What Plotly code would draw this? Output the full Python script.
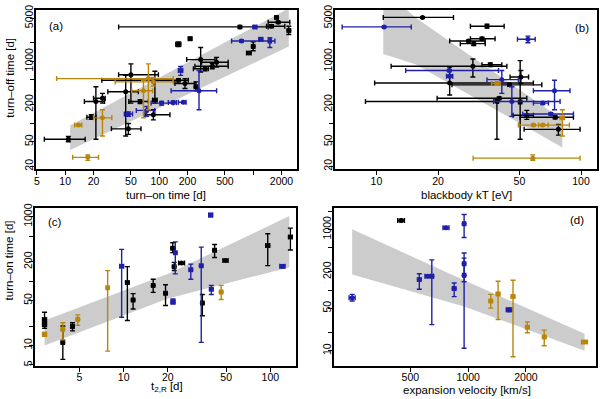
import plotly.graph_objects as go

BLACK = "black"
BLUE = "#1f1fa8"
GOLD = "#b8860b"
BAND = "#cccccc"
FONT = "Liberation Sans"

# rows: (x, x_lo, x_hi, y, y_lo, y_hi)
# panel (a): turn-on time vs turn-off time
a_black = [
    (10.8, 6.0, 16.3, 55, 50, 61), (47, 31, 64, 81, 66, 99), (18.9, 17, 21.2, 125, 115, 137),
    (21.2, 16, 26.2, 224, 55, 387), (24.9, 20, 26.6, 253, 211, 303), (44, 28.4, 60, 322, 62, 593),
    (50, 37, 98, 608, 211, 908), (62.5, 47.5, 76.7, 224, 208, 240), (86.7, 70.7, 130, 137, 113, 165),
    (90, 85, 95, 238, 211, 690), (160, 24.5, 204, 494, 465, 525), (188, 147, 240, 437, 364, 525),
    (246, 236, 256, 387, 334, 465), (276, 196, 392, 1065, 670, 1670), (307, 231, 333, 757, 700, 820),
    (367, 240, 542, 834, 760, 920), (408, 283, 542, 966, 804, 1160), (160, 150, 170, 1890, 1730, 2060),
    (213, 205, 222, 2320, 2200, 2450), (722, 37, 1443, 3600, 3400, 3800), (899, 850, 950, 1360, 1300, 1420),
    (1000, 960, 1040, 1730, 1480, 2060), (1566, 1386, 2168, 3690, 3500, 3900),
    (1842, 1443, 2450, 4270, 4100, 4450), (1770, 1700, 1840, 5130, 4950, 5300),
    (2393, 2300, 2500, 3150, 2720, 3690),
]
a_blue = [
    (47, 42.6, 52, 141, 129, 152), (73.6, 57, 90, 161, 129, 186), (106, 82, 141, 211, 196, 225),
    (141, 125, 153, 216, 205, 228), (181, 160, 193, 218, 210, 226), (265, 134, 408, 334, 165, 711),
    (169, 160, 178, 711, 593, 824), (1042, 1000, 1090, 3600, 3450, 3750),
    (751, 589, 1700, 2130, 2050, 2210), (1206, 1150, 1260, 2270, 2150, 2400),
    (1503, 1450, 1560, 2130, 1670, 2410),
]
a_gold = [
    (13.8, 12.6, 15, 93, 90, 96), (17.4, 12, 22.6, 28, 25, 30.7), (24.9, 20, 31.3, 122, 62, 165),
    (76.7, 8.1, 141, 525, 165, 908), (86.7, 34, 141, 465, 400, 550), (68, 51, 85, 334, 122, 494),
]
a_band_x = [11.3, 164, 2393]
a_band_lo = [37, 253, 1730]
a_band_hi = [92, 810, 7200]

# panel (b): blackbody kT vs turn-off time
b_black = [
    (16.8, 10.8, 23.8, 5130, 5000, 5260), (34.7, 28.8, 42.1, 3690, 3440, 3970),
    (32.8, 28.8, 38, 2320, 2200, 2450), (28.2, 22.8, 34, 2130, 2050, 2210),
    (29.9, 25.7, 34, 1930, 1800, 2060), (36, 32.8, 41, 880, 820, 940),
    (29.6, 11.8, 43.4, 834, 558, 1090), (22.8, 9.8, 58.5, 447, 286, 804),
    (44.7, 23.4, 64.3, 416, 395, 440), (50.8, 45, 55.4, 558, 437, 711),
    (38.8, 8.84, 39.5, 224, 55, 240), (39.8, 19.8, 54.3, 253, 240, 266),
    (50.4, 49.5, 51.3, 220, 55, 1025), (54.3, 46.5, 58.5, 134, 115, 161),
    (74.7, 50.4, 91.8, 125, 118, 132), (77.5, 52.7, 98.9, 79.5, 64, 95),
]
b_blue = [
    (10.9, 6.8, 14.8, 3600, 3500, 3700), (55, 48.9, 59.7, 2270, 2000, 2550),
    (22.7, 13.9, 39.5, 711, 680, 740), (22.8, 22, 23.6, 573, 550, 600),
    (41, 34.7, 49.4, 505, 303, 711), (45.9, 37.4, 79, 224, 129, 387),
    (65, 58.5, 69.3, 211, 200, 222), (74.2, 58.5, 88.3, 334, 165, 494),
    (71.2, 51.9, 91.8, 141, 135, 148),
]
b_gold = [
    (38.8, 36.5, 40.3, 437, 410, 465), (58.5, 49.4, 87.7, 93, 89, 97),
    (65, 62, 69, 93, 90, 96), (81.1, 79, 83, 122, 62, 165), (58.1, 29.7, 98.9, 27.2, 25, 30.7),
]
b_band_x = [10.8, 15.5, 81]
b_band_lo = [1310, 900, 40.6]
b_band_hi = [14800, 5100, 115]

# panel (c): t2,R vs turn-on time
c_black = [
    (2.89, 2.8, 2.98, 25.4, 18.5, 33), (2.89, 2.8, 2.98, 21.3, 19.7, 23), (3.85, 3.75, 3.95, 11.2, 6.1, 20.1),
    (4.48, 4.36, 4.6, 19.7, 16.9, 22.6), (10.6, 10.3, 10.9, 95, 24.5, 168), (11.6, 11.3, 11.9, 51, 37, 64),
    (15.9, 15.5, 16.3, 86, 67, 107), (19.3, 18.8, 19.8, 65, 42, 88), (21.6, 21, 22.2, 323, 277, 394),
    (22.1, 21.5, 22.7, 168, 146, 196), (24.8, 23.7, 26, 191, 185, 197), (34.4, 33.5, 35.3, 46, 29, 62),
    (41.7, 40.6, 42.8, 301, 233, 371), (49.5, 47.5, 51.5, 210, 202, 218), (96, 93, 99, 358, 174, 546),
    (137, 133, 141, 486, 305, 666),
]
c_blue = [
    (9.69, 9.4, 10, 170, 27.6, 312), (22.5, 21.9, 23.1, 277, 130, 408), (21.7, 21, 22.4, 48, 44, 53),
    (28.7, 27.9, 29.5, 151, 107, 184), (33.8, 32.9, 34.7, 174, 11.2, 338), (39.2, 38, 40.4, 1060, 1000, 1120),
    (39.6, 38.5, 40.7, 75, 62, 86), (121, 116, 126, 170, 160, 180),
]
c_gold = [
    (2.89, 2.8, 2.98, 15, 14, 16), (3.85, 3.75, 3.95, 17.9, 12.3, 22.6), (4.87, 4.74, 5.0, 25.4, 20.6, 30),
    (7.78, 7.6, 7.96, 79, 8.2, 146), (46.2, 45, 47.4, 68, 52, 86),
]
c_band_x = [2.89, 20.1, 134.6]
c_band_lo = [10, 54, 164]
c_band_hi = [24.5, 130, 1023]

# panel (d): expansion velocity vs turn-on time
d_blue = [
    (249, 240, 258, 75, 66, 85), (557, 545, 569, 149, 103, 186), (615, 596, 661, 169, 160, 178),
    (647, 635, 659, 169, 27, 314), (766, 740, 795, 1064, 1010, 1120), (846, 828, 864, 106, 78, 131),
    (953, 935, 971, 1236, 733, 1750), (953, 935, 971, 271, 11, 408), (953, 935, 971, 175, 137, 335),
    (1634, 1580, 1690, 47.4, 44, 51),
]
d_black = [(448, 430, 466, 1400, 1330, 1470)]
d_gold = [
    (1312, 1285, 1340, 66, 50.5, 85), (1432, 1400, 1464, 86, 32.7, 140), (1713, 1675, 1750, 78, 8, 145),
    (2034, 1990, 2080, 24.5, 19.8, 29.9), (2491, 2440, 2545, 16.9, 12.1, 21.9),
    (4040, 3900, 4180, 14, 13.2, 14.8),
]
d_band_x = [249, 953, 4040]
d_band_lo = [180, 53.7, 10]
d_band_hi = [1000, 145, 19.1]

fig = go.Figure()


def add_band(bx, lo, hi, n):
    fig.add_trace(go.Scatter(
        x=bx + bx[::-1], y=hi + lo[::-1], mode="lines", fill="toself",
        fillcolor=BAND, line=dict(width=0), hoverinfo="skip", showlegend=False,
        xaxis=f"x{n}", yaxis=f"y{n}",
    ))


def add_points(rows, color, n):
    x = [r[0] for r in rows]
    y = [r[3] for r in rows]
    fig.add_trace(go.Scatter(
        x=x, y=y, mode="markers", showlegend=False,
        marker=dict(color=color, size=5),
        error_x=dict(type="data", symmetric=False, array=[r[2] - r[0] for r in rows],
                     arrayminus=[r[0] - r[1] for r in rows], color=color, thickness=1.4, width=2.5),
        error_y=dict(type="data", symmetric=False, array=[r[5] - r[3] for r in rows],
                     arrayminus=[r[3] - r[4] for r in rows], color=color, thickness=1.4, width=2.5),
        xaxis=f"x{n}", yaxis=f"y{n}",
    ))


for n, band, groups in [
    (1, (a_band_x, a_band_lo, a_band_hi), [(a_black, BLACK), (a_blue, BLUE), (a_gold, GOLD)]),
    (2, (b_band_x, b_band_lo, b_band_hi), [(b_black, BLACK), (b_blue, BLUE), (b_gold, GOLD)]),
    (3, (c_band_x, c_band_lo, c_band_hi), [(c_black, BLACK), (c_blue, BLUE), (c_gold, GOLD)]),
    (4, (d_band_x, d_band_lo, d_band_hi), [(d_black, BLACK), (d_blue, BLUE), (d_gold, GOLD)]),
]:
    add_band(*band, n)
    for rows, col in groups:
        add_points(rows, col, n)


def px_x(p):
    return p / 600


def px_y(p):
    return 1 - p / 399


def axis(dom, rng, vals, text, anchor, vertical=False):
    d = dict(
        type="log", range=rng, domain=dom, tickvals=vals, ticktext=text, anchor=anchor,
        showline=True, mirror=True, linecolor="black", linewidth=2,
        ticks="outside", ticklen=4, tickwidth=1, tickcolor="black",
        showgrid=False, zeroline=False, ticklabelstandoff=-3,
        tickfont=dict(family=FONT, size=10.5, color="black"),
    )
    if vertical:
        d["tickangle"] = -90
        d["ticklabelstandoff"] = -7
    return d


top = [px_y(167), px_y(5)]
bot = [px_y(367), px_y(207)]
xa_vals = [5, 10, 20, 50, 100, 200, 500, 1000, 2000]
xa_text = ["5", "10", "20", "50", "100", "200", "500", "", "2000"]
yab_vals = [20, 50, 100, 200, 500, 1000, 2000, 5000]
yab_text = ["20", "50", "", "200", "", "1000", "", "5000"]
yc_vals = [5, 10, 20, 50, 100, 200, 500, 1000]
yc_text = ["5", "10", "", "50", "", "200", "", "1000"]
yd_vals = [10, 20, 50, 100, 200, 500, 1000, 2000]
yd_text = ["10", "", "50", "", "200", "", "1000", ""]

fig.update_layout(
    width=600, height=399, margin=dict(l=0, r=0, t=0, b=0),
    plot_bgcolor="white", paper_bgcolor="white",
    xaxis=axis([px_x(34), px_x(296)], [0.688, 3.466], xa_vals, xa_text, "y"),
    yaxis=axis(top, [1.258, 3.831], yab_vals, yab_text, "x", vertical=True),
    xaxis2=axis([px_x(334), px_x(597)], [0.797, 2.078], [10, 20, 50, 100], ["10", "20", "50", "100"], "y2"),
    yaxis2=axis(top, [1.258, 3.831], yab_vals, yab_text, "x2", vertical=True),
    xaxis3=axis([px_x(33), px_x(295)], [0.395, 2.175], [5, 10, 20, 50, 100], ["5", "10", "20", "50", "100"], "y3"),
    yaxis3=axis(bot, [0.69, 3.13], yc_vals, yc_text, "x3", vertical=True),
    xaxis4=axis([px_x(333), px_x(596)], [2.301, 3.666], [500, 1000, 2000], ["500", "1000", "2000"], "y4"),
    yaxis4=axis(bot, [0.757, 3.345], yd_vals, yd_text, "x4", vertical=True),
)

labels = [
    ("turn\u2013on time [d]", 165, 193, 0),
    ("blackbody kT [eV]", 466, 193, 0),
    ("t<sub>2,R</sub> [d]", 166, 389, 0),
    ("expansion velocity [km/s]", 467, 392, 0),
    ("turn\u2013off time [d]", 8, 74, -90),
    ("turn\u2013on time [d]", 7, 260, -90),
    ("(a)", 54, 21, 0), ("(b)", 582, 23, 0), ("(c)", 53, 221, 0), ("(d)", 577, 219, 0),
]
for txt, x, y, ang in labels:
    fig.add_annotation(
        text=txt, x=px_x(x), y=px_y(y), xref="paper", yref="paper",
        showarrow=False, textangle=ang, xanchor="center", yanchor="middle",
        font=dict(family=FONT, size=11.5, color="black"),
    )

# the page's default body margin would push the 600x399 figure out of the window
fig.write_html("out.html", config={"displayModeBar": False},
               post_script="document.body.style.margin='0px';")
